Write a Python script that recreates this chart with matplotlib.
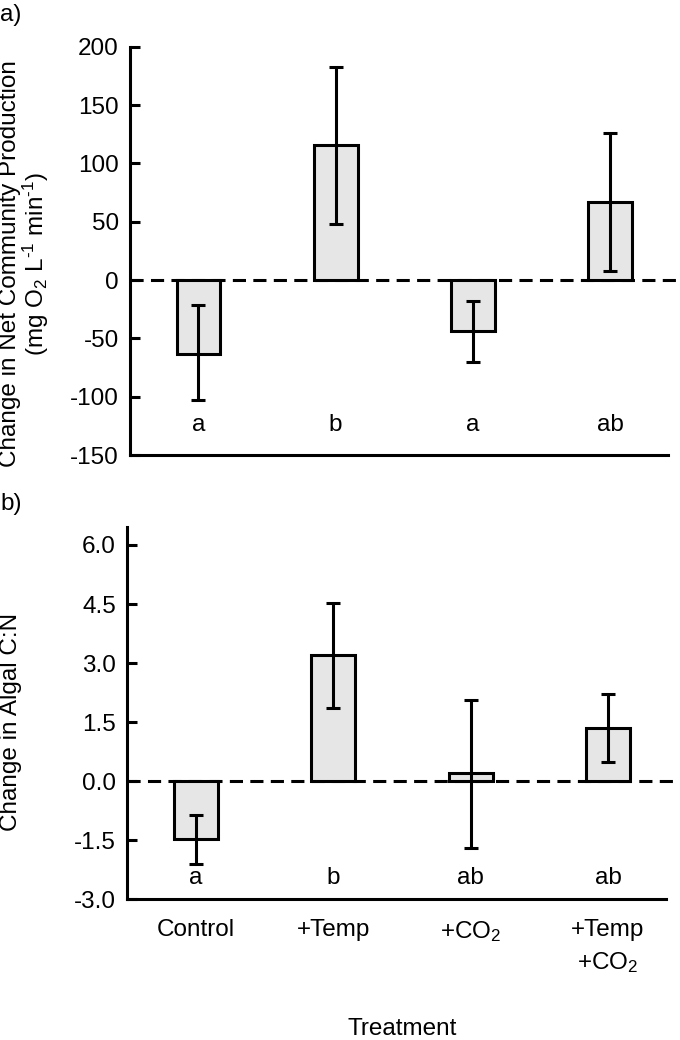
import matplotlib
matplotlib.use('Agg')
import matplotlib.pyplot as plt

plt.rcParams['font.family'] = ['Liberation Sans', 'DejaVu Sans']
plt.rcParams['mathtext.fontset'] = 'custom'
plt.rcParams['mathtext.rm'] = 'Liberation Sans'
plt.rcParams['mathtext.it'] = 'Liberation Sans:italic'
plt.rcParams['axes.unicode_minus'] = False

treatments = ['Control', '+Temp', '+CO$_2$', '+Temp\n+CO$_2$']

# panel a: net community production
ncp_mean = [-63, 116, -44, 67]
ncp_low = [-103, 48, -70, 8]
ncp_high = [-21, 183, -18, 126]
ncp_letters = ['a', 'b', 'a', 'ab']

# panel b: algal C:N
cn_mean = [-1.48, 3.2, 0.2, 1.36]
cn_low = [-2.11, 1.86, -1.69, 0.5]
cn_high = [-0.86, 4.53, 2.07, 2.21]
cn_letters = ['a', 'b', 'ab', 'ab']

fs = 17.5
fill = '#e6e6e6'
lw = 2.2

fig = plt.figure(figsize=(6.8, 10.4), dpi=100)
ax1 = fig.add_axes([0.191, 0.5625, 0.791, 0.3925])
ax2 = fig.add_axes([0.187, 0.1353, 0.792, 0.3577])


def draw(ax, mean, low, high, letters, letter_y):
    x = list(range(len(mean)))
    ax.axhline(0, xmin=0, xmax=1.03, color='black', lw=lw,
               linestyle=(0, (4.3, 2.4)), zorder=1, clip_on=False)
    ax.bar(x, mean, width=0.32, color=fill, edgecolor='black', linewidth=lw, zorder=2)
    err = [[m - l for m, l in zip(mean, low)], [h - m for m, h in zip(mean, high)]]
    ax.errorbar(x, mean, yerr=err, fmt='none', ecolor='black', elinewidth=lw,
                capsize=5, capthick=lw, zorder=3)
    for xi, t in zip(x, letters):
        ax.text(xi, letter_y, t, ha='center', va='center', fontsize=fs)
    ax.set_xlim(-0.5, 3.42)
    ax.spines['top'].set_visible(False)
    ax.spines['right'].set_visible(False)
    ax.spines['left'].set_linewidth(lw)
    ax.spines['bottom'].set_linewidth(lw)
    ax.tick_params(axis='y', direction='in', length=7, width=lw, labelsize=fs, pad=8)
    ax.tick_params(axis='x', length=0, labelsize=fs, pad=14)


draw(ax1, ncp_mean, ncp_low, ncp_high, ncp_letters, -124)
ax1.set_ylim(-150, 200)
ax1.set_yticks([-150, -100, -50, 0, 50, 100, 150, 200])
ax1.set_xticks([])
ax1.set_ylabel('Change in Net Community Production\n'
               '(mg O$_2$ L$^{\\text{-1}}$ min$^{\\text{-1}}$)',
               fontsize=fs, linespacing=1.0)
ax1.yaxis.set_label_coords(-0.147, 0.468)

draw(ax2, cn_mean, cn_low, cn_high, cn_letters, -2.46)
ax2.set_ylim(-3, 6.45)
ax2.set_yticks([-3.0, -1.5, 0.0, 1.5, 3.0, 4.5, 6.0])
ax2.set_yticklabels(['-3.0', '-1.5', '0.0', '1.5', '3.0', '4.5', '6.0'])
ax2.set_xticks(range(len(treatments)))
ax2.set_xticklabels(treatments, linespacing=1.5, va='top')
ax2.set_ylabel('Change in Algal C:N', fontsize=fs)
ax2.yaxis.set_label_coords(-0.195, 0.476)
ax2.set_xlabel('Treatment', fontsize=fs)
ax2.xaxis.set_label_coords(0.51, -0.318)

fig.text(0.0, 0.986, 'a)', fontsize=fs, ha='left', va='center')
fig.text(0.0, 0.515, 'b)', fontsize=fs, ha='left', va='center')

fig.savefig('out.png', dpi=100)
